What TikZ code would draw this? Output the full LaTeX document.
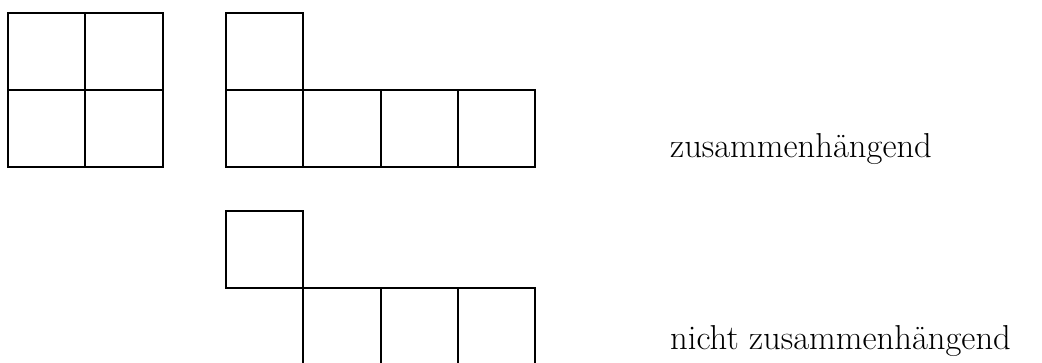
\documentclass[tikz,border=0pt]{standalone}
\begin{document}
\begin{tikzpicture}[x=1pt,y=-1pt,
  cell/.style={draw=black,line width=1.8pt},
  lbl/.style={anchor=base west,inner sep=0pt,font=\fontsize{34.6}{40}\selectfont}]
\useasboundingbox (0,0) rectangle (1042,363);
% left 2x2 block
\draw[cell] (8,13) rectangle (163,167);
\draw[cell] (85,13) -- (85,167);
\draw[cell] (8,90) -- (163,90);
% connected figure
\draw[cell] (226,13) rectangle (303,90);
\draw[cell] (226,90) rectangle (535,167);
\draw[cell] (303,90) -- (303,167);
\draw[cell] (381,90) -- (381,167);
\draw[cell] (458,90) -- (458,167);
% non-connected figure
\draw[cell] (226,211) rectangle (303,288);
\draw[cell] (303,363) -- (303,288) -- (535,288) -- (535,363);
\draw[cell] (381,288) -- (381,363);
\draw[cell] (458,288) -- (458,363);
\node[lbl] (t1) at (670,158) {zusammenhängend};
\node[lbl] (t2) at (670,350) {nicht zusammenhängend};
\end{tikzpicture}
\end{document}
